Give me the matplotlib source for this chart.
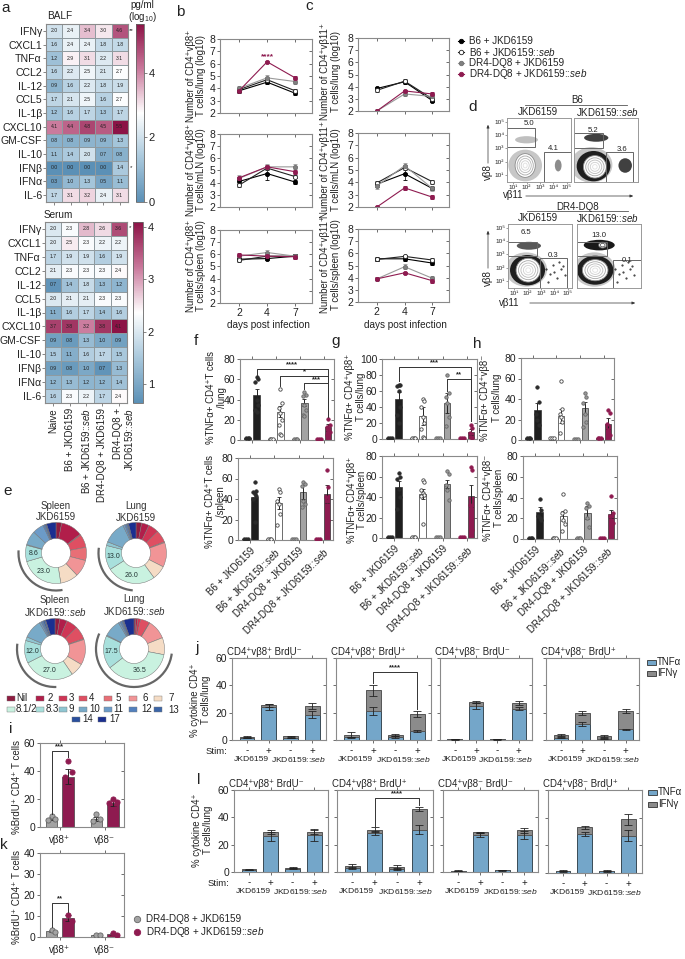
import numpy as np
import matplotlib
matplotlib.use("Agg")
import matplotlib.pyplot as plt
from matplotlib.colors import LinearSegmentedColormap, Normalize
from matplotlib.lines import TICKLEFT, TICKDOWN
from matplotlib.patches import Ellipse, Arc, Rectangle
import logging
logging.getLogger('matplotlib.font_manager').setLevel(logging.ERROR)

plt.rcParams['font.family'] = ['Liberation Sans', 'DejaVu Sans']
plt.rcParams['mathtext.fontset'] = 'custom'
plt.rcParams['mathtext.rm'] = 'Liberation Sans'
plt.rcParams['mathtext.it'] = 'Liberation Sans:italic'
plt.rcParams['mathtext.bf'] = 'Liberation Sans:bold'
plt.rcParams['mathtext.default'] = 'regular'
plt.rcParams['hatch.linewidth'] = 0.4
plt.rcParams['text.color'] = '#222222'
plt.rcParams['axes.labelcolor'] = '#222222'
plt.rcParams['xtick.color'] = '#555555'
plt.rcParams['ytick.color'] = '#555555'
plt.rcParams['xtick.labelcolor'] = '#222222'
plt.rcParams['ytick.labelcolor'] = '#222222'

W, H = 685, 959
MAROON = '#8e1b50'
GREY = '#a3a3a3'
DARK = '#1f1f1f'
SPINE = '#8a8a8a'
SEB = 'JKD6159::$\\mathit{seb}$'

# ---------- data: panel a ----------
cytokines = ['IFNγ', 'CXCL1', 'TNFα', 'CCL2', 'IL-12', 'CCL5', 'IL-1β', 'CXCL10',
             'GM-CSF', 'IL-10', 'IFNβ', 'IFNα', 'IL-6']
heat_groups = ['Naive', 'B6 + JKD6159', 'B6 + ' + SEB, 'DR4-DQ8 + JKD6159']
heat_last = ['DR4-DQ8 +', SEB]
balf = [[2.0, 2.4, 3.4, 3.0, 4.6], [1.6, 2.4, 2.4, 1.8, 1.8], [1.2, 2.9, 3.1, 2.2, 3.1],
        [1.6, 2.2, 2.5, 2.1, 2.7], [0.9, 1.6, 2.2, 1.8, 1.9], [1.7, 2.1, 2.5, 1.6, 2.7],
        [1.2, 1.6, 1.7, 1.3, 1.7], [4.1, 4.4, 4.8, 4.5, 5.5], [0.8, 0.8, 0.9, 0.9, 1.3],
        [1.1, 1.4, 2.0, 0.7, 0.8], [0.0, 0.0, 0.0, 0.0, 1.4], [0.3, 1.0, 1.3, 0.5, 1.1],
        [1.7, 3.1, 3.2, 2.4, 3.1]]
serum = [[2.0, 2.3, 2.8, 2.6, 3.6], [2.0, 2.5, 2.3, 2.2, 2.2], [1.7, 1.9, 1.9, 1.6, 1.9],
         [2.1, 2.3, 2.3, 2.3, 2.4], [0.7, 1.4, 1.8, 1.3, 1.2], [2.0, 2.1, 2.1, 2.3, 2.3],
         [1.1, 1.6, 1.7, 1.4, 1.6], [3.7, 3.8, 3.2, 3.8, 4.1], [0.9, 0.8, 1.3, 1.0, 0.9],
         [1.5, 1.1, 1.6, 1.7, 1.5], [0.9, 0.8, 1.0, 0.7, 1.3], [1.2, 1.3, 1.2, 1.2, 1.4],
         [1.6, 2.3, 2.2, 1.7, 2.4]]

# ---------- data: panels b, c ----------
days = ['2', '4', '7']
b_lung = [[3.8, 4.5, 3.6], [3.9, 4.7, 3.8], [4.0, 4.85, 4.55], [3.8, 6.15, 4.85]]
b_mln = [[4.1, 4.75, 4.05], [3.8, 5.2, 4.5], [4.35, 5.3, 5.3], [4.4, 5.3, 4.9]]
b_spleen = [[5.6, 5.65, 5.85], [5.5, 5.85, 5.85], [5.85, 6.15, 5.85], [5.95, 5.85, 5.8]]
c_lung = [[3.85, 4.4, 2.85], [3.7, 4.45, 3.0], [2.0, 3.4, 3.2], [2.0, 3.65, 3.4]]
c_mln = [[3.85, 4.7, 3.5], [3.95, 5.2, 4.05], [3.7, 5.35, 3.5], [2.0, 3.55, 2.8]]
c_spleen = [[5.55, 5.55, 5.2], [5.5, 5.75, 5.45], [3.9, 4.9, 3.95], [3.9, 4.4, 3.75]]
line_err = [[.15, .15, .15], [.15, .15, .15], [.15, .2, .2], [.12, .1, .15]]
line_err_big = [[.2, .5, .15], [.15, .2, .15], [.25, .2, .2], [.05, .15, .15]]

# ---------- data: panel e ----------
segments = ['Nil', '2', '3', '4', '5', '6', '7', '8.1/2', '8.3', '9', '10', '11', '12', '13', '14', '17']
segment_colors = ['#8e1c40', '#b11e4a', '#cf3555', '#df4f62', '#e86f76', '#f19496', '#f5dcc5', '#c9f2e0',
                  '#a8e0dc', '#8fc6d2', '#78aac8', '#6c9bc8', '#5280bd', '#3c66a8', '#2a4f9e', '#1a2f90']
e_spleen = [3, 11.5, 0.5, 7, 7, 9, 9.5, 23, 8.6, 0.4, 7.5, 6, 1, 0.5, 0.5, 5]
e_lung = [3, 4, 5.5, 6.5, 0.5, 13, 7.5, 26, 13, 2, 12, 1, 1, 0.5, 0.5, 4]
e_spleen_seb = [2.5, 4, 6, 7, 0.5, 13.5, 7, 27, 12, 2, 10, 1, 1, 1, 0.5, 5]
e_lung_seb = [1, 1, 1.5, 5, 0.1, 10.4, 9, 36.5, 17.5, 0.5, 9, 1, 1, 0.5, 0.5, 5.5]

# ---------- data: panels f, g, h (pairs: unstimulated, stimulated) ----------
f1_low = [1.5, 1, 1, 1]; f1_high = [44, 28, 37, 12.5]; f1_err = [6.5, 5.5, 3.5, 3.5]
f1_pts = [[62, 60, 57, 40, 35, 30, 28], [50, 37, 32, 27, 20, 15, 6, 5],
          [47, 44, 43, 35, 30, 25, 24], [21, 15, 13, 10, 8, 5, 3]]
f2_low = [.5, .5, 1, 1]; f2_high = [42, 36, 47, 45]; f2_err = [5, 6, 7, 9]
f2_pts = [[57, 48, 47, 45, 43, 40, 18], [50, 47, 38, 35, 25, 15],
          [57, 55, 53, 38, 35, 32], [68, 52, 42, 38, 20]]
g1_low = [1, 1, 1, 1]; g1_high = [50, 29, 45, 9]; g1_err = [9, 11, 12, 4]
g1_pts = [[68, 67, 66, 60, 40, 30, 20], [50, 47, 40, 28, 20, 13, 2, 1],
          [80, 57, 53, 45, 27, 16], [18, 14, 7, 3, 1]]
g2_low = [1, 1, 1, 1]; g2_high = [50, 43, 53, 41]; g2_err = [6, 5, 4, 11]
g2_pts = [[63, 60, 58, 48, 40, 28], [57, 55, 47, 44, 42, 41, 14],
          [65, 62, 52, 47, 37], [69, 66, 32, 29, 7.5]]
h1_low = [1.5, 1.5, 1, 1.5]; h1_high = [29, 23.5, 31, 16]; h1_err = [7, 7, 6, 5]
h1_pts = [[52, 37, 25, 20, 15], [58, 30, 25, 22, 18, 7], [46, 42, 36, 25, 18, 13], [29, 26, 16, 10, 5]]
h2_low = [.5, .5, .5, .5]; h2_high = [26, 22, 25.5, 24]; h2_err = [5, 5, 6, 4]
h2_pts = [[39, 28, 22, 20, 18], [43, 27, 25, 18, 14, 8], [35, 32, 30, 20, 12], [41, 25, 22, 18, 15]]
bar_labels = ['B6 + JKD6159', 'B6 + ' + SEB, 'DR4-DQ8 + JKD6159', 'DR4-DQ8 + ' + SEB]

# ---------- data: panels j, l ----------
stim = ['-', '+', '-', '+']
titles_jl = ['CD4⁺vβ8⁺ BrdU⁻', 'CD4⁺vβ8⁺ BrdU⁺', 'CD4⁺vβ8⁻ BrdU⁻', 'CD4⁺vβ8⁻ BrdU⁺']
j_tnf = [[1.5, 24, 1.5, 18.5], [2, 21, 2, 6.5], [.5, 25, .5, 23], [1.5, 12, 1, 8]]
j_tot = [[2.3, 25.5, 2.7, 25], [4, 36.5, 3.7, 19], [.7, 28, .7, 27], [3.5, 19.5, 3, 21]]
j_tnf_err = [[.3, 2.3, .3, 2.5], [.5, 3, .7, .7], [.2, 2, .2, 1], [.4, 1.5, .2, .4]]
j_tot_err = [[.3, 1, .3, 2], [1.5, 4, 1, 2.5], [.2, .7, .2, 1.5], [.6, 1.5, .5, 1.5]]
l_tnf = [[1.5, 26, 2.5, 27], [3, 28.5, 2.5, 31], [.7, 27, 1.2, 27], [1.3, 28.5, 1.2, 27]]
l_tot = [[2, 29.5, 3, 29.5], [4.5, 31, 3.7, 46], [.9, 29, 1.5, 30.5], [1.8, 33, 1.6, 39]]
l_tnf_err = [[.3, 3.5, .3, 4], [.8, 1.5, .7, 3.5], [.2, 1.5, .3, 3], [.5, 1.5, .3, 4]]
l_tot_err = [[.3, 1.5, .3, 2], [1.5, 2, 1.5, 1.5], [.2, .5, .3, 2], [.5, 1, .3, 4]]

# ---------- data: panels i, k ----------
ik_cats = ['vβ8⁺', 'vβ8⁻']
i_vals = [6, 36, 6, 17]; i_err = [1, 5.5, 1.5, 2]
i_pts = [[8, 6, 5], [47, 39, 36, 21], [9, 6, 4], [20, 18, 17, 13]]
k_vals = [3, 9, 1, 1.5]; k_err = [.4, 1.5, 0, .5]
k_pts = [[3.5, 2.5], [10.5, 7.5], [1, 1], [2, 1]]

# ---------- data: panel d gate frequencies ----------
d_vb8 = ['5.0', '5.2', '6.5', '13.0']
d_vb11 = ['4.1', '3.6', '0.3', '0.1']

fig = plt.figure(figsize=(W / 100, H / 100), dpi=100)
ov = fig.add_axes([0, 0, 1, 1], zorder=20)
ov.set_xlim(0, W); ov.set_ylim(H, 0); ov.axis('off'); ov.patch.set_alpha(0)


def axpx(l, t, r, b):
    ax = fig.add_axes([l / W, 1 - b / H, (r - l) / W, (b - t) / H])
    for s in ax.spines.values():
        s.set_color(SPINE); s.set_linewidth(0.8)
    return ax


def T(x, y, s, size=7, ha='center', va='center', rot=0, **kw):
    kw.setdefault('linespacing', 1.15)
    ov.text(x, y, s, fontsize=size, ha=ha, va=va, rotation=rot, **kw)


def YL(x1, x2, y, l1, l2, size=6.9):
    T(x1, y, l1, rot=90, size=size)
    T(x2, y, l2, rot=90, size=size)


def mirror(ax):
    ax.tick_params(top=True, right=True, length=2, width=0.6, pad=1.5)
    for t in ax.yaxis.get_major_ticks():
        t.tick2line.set_marker(TICKLEFT)
    for t in ax.xaxis.get_major_ticks():
        t.tick2line.set_marker(TICKDOWN)


# panel letters
for s, x, y in [('a', 6, 8), ('b', 180, 12), ('c', 309, 6), ('d', 473, 107), ('e', 8, 491),
                ('f', 196, 341), ('g', 336, 341), ('h', 477, 344), ('i', 11, 729),
                ('j', 197, 648), ('k', 4, 845), ('l', 199, 780)]:
    T(x, y, s, size=11)

# ---------- a ----------
cmap = LinearSegmentedColormap.from_list('hm', [(0, '#5b90b6'), (.25, '#a9c8dc'), (.5, '#ffffff'),
                                                (.75, '#c9789b'), (1, '#8c1346')])


def heat(box, cbox, vals, norm, ticks):
    ax = axpx(*box)
    v = np.array(vals)
    m = ax.pcolormesh(v, cmap=cmap, norm=norm, edgecolors='#8f9a9f', linewidth=0.5)
    ax.set_xlim(0, 5); ax.set_ylim(13, 0)
    for r in range(13):
        for c in range(5):
            ax.text(c + .5, r + .5, f'{v[r, c]:.1f}', fontsize=3.7, ha='center', va='center', color='#222222')
    ax.set_yticks(np.arange(13) + .5, cytokines, fontsize=7.6)
    ax.set_xticks(np.arange(5) + .5, [])
    ax.tick_params(length=2, width=0.5, pad=1)
    cax = axpx(*cbox)
    cb = fig.colorbar(m, cax=cax, ticks=ticks)
    cb.outline.set_edgecolor('#666666'); cb.outline.set_linewidth(.6)
    cb.ax.tick_params(labelsize=8, length=2, width=.5, pad=1.5)
    return ax


heat((46, 24, 128, 202), (136, 24, 144, 202), balf, Normalize(0, 5.5), [0, 2, 4])
heat((45, 222, 127, 403), (133, 222, 143, 403), serum, Normalize(.63, 4.1), [1, 2, 3, 4])
for i, name in enumerate(heat_groups):
    T(53.2 + 16.4 * i, 408, name, rot=90, va='top', size=7)
T(118, 408, heat_last[0], rot=90, va='top', size=7)
T(129, 408, heat_last[1], rot=90, va='top', size=7)
T(47, 16, 'BALF', size=7.2, ha='left')
T(44, 215, 'Serum', size=7.2, ha='left')
T(142, 5, 'pg/ml', size=7)
T(142, 17, '(log$_{10}$)', size=7)
T(131, 31, '**', size=4.5); T(131, 168, '*', size=4.5); T(130, 228, '*', size=4.5)

# ---------- b, c ----------
line_names = ['B6 + JKD6159', 'B6 + ' + SEB, 'DR4-DQ8 + JKD6159', 'DR4-DQ8 + ' + SEB]
styles = [dict(color='black', mfc='black', mec='black'),
          dict(color='#222222', mfc='white', mec='#222222'),
          dict(color='#9a9a9a', mfc='#808080', mec='#707070'),
          dict(color=MAROON, mfc=MAROON, mec=MAROON)]


def lines(box, series, errs, xtick=False):
    ax = axpx(*box)
    for s, e, st in zip(series, errs, styles):
        ax.errorbar(range(3), s, yerr=e, marker='o', ms=3.0, lw=.8, mew=.6, ecolor=st['color'],
                    elinewidth=.5, capsize=1.2, capthick=.5, **st)
    ax.set_xlim(-.68, 2.6); ax.set_ylim(2, 8)
    ax.set_yticks(range(2, 9))
    ax.set_xticks(range(3), days if xtick else [])
    ax.tick_params(labelsize=7.5)
    mirror(ax)
    return ax


ax = lines((220, 39, 312, 113), b_lung, line_err)
ax.text(1, 6.6, '****', color=MAROON, fontsize=6, fontweight='bold', ha='center', va='center')
lines((220, 134, 312, 207), b_mln, line_err_big)
lines((220, 230, 312, 303), b_spleen, line_err, xtick=True)
lines((358, 38, 449, 111), c_lung, line_err)
lines((358, 133, 449, 207), c_mln, line_err_big)
lines((358, 229, 449, 302), c_spleen, line_err, xtick=True)
YL(191, 201, 76, 'Number of CD4⁺vβ8⁺', 'T cells/lung (log10)')
YL(191, 201, 170, 'Number of CD4⁺vβ8⁺', 'T cells/mLN (log10)')
YL(191, 201, 266, 'Number of CD4⁺vβ8⁺', 'T cells/spleen (log10)')
YL(325, 336, 72, 'Number of CD4⁺vβ11⁺', 'T cells/lung (log10)')
YL(325, 336, 170, 'Number of CD4⁺vβ11⁺', 'T cells/mLN (log10)')
YL(325, 336, 265, 'Number of CD4⁺vβ11⁺', 'T cells/spleen (log10)')
T(268, 325, 'days post infection', size=7.2)
T(405, 325, 'days post infection', size=7.2)
for i, (nm, st) in enumerate(zip(line_names, styles)):
    y = 41 + i * 11
    ov.plot([458, 464.5], [y, y], color=st['color'], lw=.8)
    ov.plot([461.2], [y], marker='o', ms=3.2, mfc=st['mfc'], mec=st['mec'], mew=.6, ls='none')
    T(469.5, y, nm, size=7.1, ha='left')

# ---------- d ----------
flow_boxes = [(507, 118, 571, 182), (574, 118, 638, 182), (508, 224, 572, 288), (577, 224, 641, 288)]
flow_main = [(1.9, 1.7, 1.5, 1.8), (2.1, 1.6, 1.7, 1.7), (2.05, 1.8, 1.8, 1.8), (1.9, 1.8, 1.9, 1.6)]
flow_dense = [None, (2.0, 1.65, 2.5, 2.3), (2.0, 1.8, 2.6, 2.3), (1.9, 1.8, 2.7, 2.2)]
flow_halo = [(1.9, 1.7, 2.5, 2.4), (1.85, 1.75, 3.1, 2.7), (1.9, 1.85, 3.1, 2.6), (1.85, 1.85, 3.1, 2.6)]
flow_vb8_blob = [(2.0, 3.65, 1.7, .55, .25), (2.2, 3.8, 1.8, .6, .75), (2.1, 3.65, 1.8, .6, .65), (2.2, 3.7, 2.3, .8, .9)]
flow_vb11_blob = [(4.35, 1.7, .5, .9, .45), (4.35, 1.7, 1.0, 1.1, .75), None, None]
flow_vb8_gate = [(.55, 3.1, 2.1, 1.45), (.55, 3.0, 2.15, 1.15), (.55, 2.85, 2.15, 1.05), (.55, 2.85, 2.2, 1.05)]
flow_vb11_gate = [(3.3, .45, 2.0, 2.3), (2.95, .45, 1.95, 2.25), (2.95, .45, 1.95, 2.3), (3.25, .45, 2.05, 2.1)]
flow_label8 = [(2.2, 4.85), (2.0, 4.35), (1.9, 4.65), (2.2, 4.45)]
flow_label11 = [(4.0, 3.0), (4.15, 2.95), (3.9, 2.9), (4.3, 2.5)]
flow_sparse_x = [3.4, 3.7, 3.9, 4.2, 4.45, 4.0, 4.6, 3.5, 4.3, 4.8]
flow_sparse_y = [1.9, 1.5, 2.2, 1.2, 1.9, 1.7, 2.1, 0.9, 2.4, 1.4]
flow_tick_names = ['10¹', '10²', '10³', '10⁴', '10⁵']

for i, bx in enumerate(flow_boxes):
    ax = axpx(*bx)
    for s in ax.spines.values():
        s.set_color('#999999'); s.set_linewidth(.7)
    ax.set_xlim(.55, 5.3); ax.set_ylim(.45, 5.3)
    cx, cy, w, h = flow_halo[i]
    ax.add_patch(Ellipse((cx, cy), w, h, fc='#000000', ec='none', alpha=.22))
    if flow_dense[i]:
        cx, cy, w, h = flow_dense[i]
        ax.add_patch(Ellipse((cx, cy), w, h, fc='#000000', ec='none', alpha=.85))
    b = flow_vb8_blob[i]
    ax.add_patch(Ellipse(b[:2], b[2], b[3], fc='#000000', ec='none', alpha=b[4]))
    if flow_vb11_blob[i]:
        b = flow_vb11_blob[i]
        ax.add_patch(Ellipse(b[:2], b[2], b[3], fc='#000000', ec='none', alpha=b[4]))
    else:
        ax.plot(flow_sparse_x, flow_sparse_y, '.', ms=1, color='#222222')
    cx, cy, w, h = flow_main[i]
    for f, col in [(1, '#8a8a8a'), (.8, '#a8a8a8'), (.6, '#bcbcbc'), (.4, '#cfcfcf'), (.2, '#e0e0e0')]:
        ax.add_patch(Ellipse((cx, cy), w * f, h * f, fc='white', ec=col, lw=.6))
    if i == 3:
        for f in (1, .6):
            ax.add_patch(Ellipse((2.45, 3.7), .6 * f, .45 * f, fc='white', ec='#555555', lw=.6))
    x0, y0, gw, gh = flow_vb8_gate[i]
    ax.add_patch(Rectangle((x0, y0), gw, gh, fc='none', ec='#666666', lw=.7))
    x0, y0, gw, gh = flow_vb11_gate[i]
    ax.add_patch(Rectangle((x0, y0), gw, gh, fc='none', ec='#666666', lw=.7))
    ax.text(*flow_label8[i], d_vb8[i], fontsize=5.6, ha='center', va='center')
    ax.text(*flow_label11[i], d_vb11[i], fontsize=5.6, ha='center', va='center')
    ax.set_xticks(range(1, 6), flow_tick_names if i in (0, 2) else [])
    ax.set_yticks(range(1, 6), flow_tick_names if i in (0, 2) else [])
    ax.tick_params(labelsize=4.6, length=1.2, width=.4, pad=.8)
    if i in (1, 3):
        ax.tick_params(length=0)

T(577, 100, 'B6', size=7); ov.plot([525, 627], [105, 105], color='#555555', lw=.6)
T(578, 207, 'DR4-DQ8', size=7); ov.plot([527, 628], [211, 211], color='#555555', lw=.6)
for y in (112, 218):
    T(538, y, 'JKD6159', size=7)
    T(607.5, y, SEB, size=7)
arrow = dict(arrowstyle='-|>,head_width=.08,head_length=.18', color='#333333', lw=.5)
for (xl, yl, x0, x1, yy) in [(513, 195, 523, 636, 196), (509, 303, 527, 638, 303)]:
    T(xl, yl, 'vβ11', size=7)
    ov.annotate('', xy=(x1, yy), xytext=(x0, yy), arrowprops=arrow)
for (yl, y0, y1) in [(172, 166, 122), (278, 271, 228)]:
    T(488, yl, 'vβ8', size=7, rot=90)
    ov.annotate('', xy=(488, y1), xytext=(488, y0), arrowprops=arrow)

# ---------- e ----------
donuts = [((56, 553), e_spleen, 'Spleen\nJKD6159', (176, 280), 37.5),
          ((136, 553), e_lung, 'Lung\nJKD6159', (172, 265), 37.5),
          ((55, 649), e_spleen_seb, 'Spleen\n' + SEB, (172, 272), 38),
          ((134, 649), e_lung_seb, 'Lung\n' + SEB, (156, 353), 38)]
donut_title_y = [511.5, 512, 606.5, 605.5]
donut_labels = [[('8.6', 8), ('23.0', 7)], [('13.0', 8), ('26.0', 7)], [('12.0', 8), ('27.0', 7)], [('17.5', 8), ('36.5', 7)]]
R = 30.5
for k, ((cx, cy), vals, title, arc, arc_r) in enumerate(donuts):
    s = 45.0
    ax = axpx(cx - s, cy - s, cx + s, cy + s)
    ax.axis('off'); ax.patch.set_alpha(0)
    ax.pie(vals, colors=segment_colors, startangle=90, counterclock=False, radius=R / s,
           wedgeprops=dict(width=16 / s, edgecolor='#777777', linewidth=.35), center=(0, 0))
    ax.set_xlim(-1, 1); ax.set_ylim(-1, 1); ax.set_aspect('equal')
    # grey arc spanning the TCR vβ8 segments
    ax.add_patch(Arc((0, 0), 2 * arc_r / s, 2 * arc_r / s, theta1=arc[0], theta2=arc[1], color='#666666', lw=1.6))
    total = sum(vals)
    for lab, idx in donut_labels[k]:
        start = sum(vals[:idx])
        mid = 90 - 360 * (start + vals[idx] / 2) / total
        rr = 22.5 / s
        ax.text(rr * np.cos(np.radians(mid)), rr * np.sin(np.radians(mid)), lab, fontsize=5, ha='center',
                va='center', color='#223333')
    T(cx, donut_title_y[k], title, size=7, color='#333333')

legend_pos = [(7, 698, 16), (36, 698, 48), (59, 698, 69), (79, 698, 89), (104, 698, 116), (129, 698, 143), (154, 698, 168),
              (7, 709, 16), (36, 709, 46), (59, 709, 69), (79, 709, 89), (104, 709, 113), (129, 709, 141), (154, 709, 168),
              (72, 719, 82), (98, 719, 109)]
for name, col, (xs, y, xt) in zip(segments, segment_colors, legend_pos):
    ov.add_patch(Rectangle((xs, y - 2.5), 8.5, 5, fc=col, ec='#777777', lw=.3))
    T(xt, y + (1 if name == '13' else 0), name, size=7, ha='left')

# ---------- f, g, h ----------
BX = [0, 1, 2.65, 3.65, 5.35, 6.35, 8, 9]
bar_col = [DARK, 'white', GREY, MAROON]
pt_fc = ['#2b2b2b', 'white', '#9a9a9a', MAROON]
pt_ec = ['#2b2b2b', '#444444', '#666666', MAROON]
swarm = [0, .15, -.15, 0, .15, -.15, 0, .1]


def pairs(box, low, high, err, pts, ymax, yticks, labels=False):
    ax = axpx(*box)
    for i in range(4):
        x0, x1 = BX[2 * i], BX[2 * i + 1]
        ax.bar([x0, x1], [low[i], high[i]], width=.72, color=bar_col[i], edgecolor='#333333', linewidth=.5, zorder=2)
        ax.errorbar([x1], [high[i]], yerr=[err[i]], color='#222222', elinewidth=.7, capsize=1.6, capthick=.6, zorder=3)
        ax.scatter(x0 + np.array([-.2, 0, .2]), [low[i]] * 3, s=6, fc=pt_fc[i], ec=pt_ec[i], lw=.6, zorder=4)
        ax.scatter(x1 + np.array(swarm[:len(pts[i])]), pts[i], s=6, fc=pt_fc[i], ec=pt_ec[i], lw=.6, zorder=4)
    ax.set_xlim(-.85, 9.65); ax.set_ylim(0, ymax)
    ax.set_yticks(yticks)
    ax.set_xticks([(BX[2 * i] + BX[2 * i + 1]) / 2 for i in range(4)])
    if labels:
        ax.set_xticklabels(bar_labels, rotation=45, ha='right', rotation_mode='anchor', fontsize=7)
    else:
        ax.set_xticklabels([])
    ax.tick_params(axis='y', labelsize=7.5)
    mirror(ax)
    ax.tick_params(axis='x', pad=2)
    return ax


def bracket(ax, x0, x1, y, y0, y1, s, c='#333333', dy=None):
    ax.plot([x0, x0, x1, x1], [y0, y, y, y1], color=c, lw=.7, zorder=5, clip_on=False)
    top = ax.get_ylim()[1]
    ax.text((x0 + x1) / 2, y + (dy if dy is not None else top * .018), s, fontsize=5.5, fontweight='bold', ha='center', va='center',
            clip_on=False, zorder=6)


a1 = pairs((240, 359, 334, 440), f1_low, f1_high, f1_err, f1_pts, 80, [0, 20, 40, 60, 80])
bracket(a1, 1, 9, 70.5, 64, 25, '****', dy=4)
bracket(a1, 3.65, 9, 63.5, 53, 23, '*', dy=4)
bracket(a1, 6.35, 9, 56, 50, 23, '***', dy=3.5)
pairs((238, 458, 333, 540), f2_low, f2_high, f2_err, f2_pts, 80, [0, 20, 40, 60, 80], labels=True)
a1 = pairs((382, 359, 477, 439), g1_low, g1_high, g1_err, g1_pts, 100, [0, 20, 40, 60, 80, 100])
bracket(a1, 1, 9, 90, 72, 25, '***', dy=5)
bracket(a1, 6.35, 9, 75, 60, 22, '**', dy=5)
pairs((382, 456, 477, 538), g2_low, g2_high, g2_err, g2_pts, 80, [0, 20, 40, 60, 80], labels=True)
pairs((521, 358, 614, 440), h1_low, h1_high, h1_err, h1_pts, 80, [0, 20, 40, 60, 80])
pairs((523, 456, 617, 539), h2_low, h2_high, h2_err, h2_pts, 80, [0, 20, 40, 60, 80], labels=True)
YL(211, 222, 398, '%TNFα+ CD4⁺T cells', '/lung')
YL(210, 221, 502, '%TNFα+ CD4⁺T cells', '/spleen')
YL(350, 361, 397, '%TNFα+ CD4⁺vβ8⁺', 'T cells/lung')
YL(352, 362, 500, '%TNFα+ CD4⁺vβ8⁺', 'T cells/spleen')
YL(485, 497, 398, '%TNFα+ CD4⁺vβ8⁻', 'T cells/lung')
YL(488, 499, 498, '%TNFα+ CD4⁺vβ8⁻', 'T cells/spleen')

# ---------- j, l ----------
TNF_C = '#74a6c9'
IFN_C = '#8b8b8b'


def stack(box, tnf, tot, e1, e2, title, first):
    ax = axpx(*box)
    xs = np.arange(4)
    tnf = np.array(tnf); tot = np.array(tot)
    ax.bar(xs, tnf, width=.68, color=TNF_C, edgecolor='#3a4a55', linewidth=.7, zorder=2)
    ax.bar(xs, tot - tnf, bottom=tnf, width=.68, color=IFN_C, edgecolor='#555555', linewidth=.7, zorder=2)
    ax.errorbar(xs, tnf, yerr=e1, ls='none', color='#222222', elinewidth=.6, capsize=3.2, capthick=.6, zorder=3)
    ax.errorbar(xs, tot, yerr=e2, ls='none', color='#222222', elinewidth=.6, capsize=3.2, capthick=.6, zorder=3)
    ax.set_xlim(-.69, 3.62); ax.set_ylim(0, 60)
    ax.set_yticks([0, 20, 40, 60], ['0', '20', '40', '60'] if first else [])
    ax.set_xticks(xs, stim, fontsize=7)
    ax.tick_params(axis='y', labelsize=7.5)
    mirror(ax)
    ax.tick_params(axis='x', pad=2)
    tr = ax.get_xaxis_transform()
    ax.text(.2, -.235, 'JKD6159', transform=tr, fontsize=6.1, ha='center', va='center')
    ax.text(2.37, -.235, SEB, transform=tr, fontsize=6.1, ha='center', va='center')
    ax.text(-.05, 1.07, title, transform=ax.transAxes, fontsize=6.9, ha='left', va='center')
    return ax


j_boxes = [(232, 658, 326, 740), (336, 658, 431, 740), (440, 658, 532, 740), (546, 658, 639, 740)]
l_boxes = [(234, 790, 328, 872), (337, 790, 433, 872), (443, 790, 538, 872), (548, 790, 642, 873)]
for i in range(4):
    a = stack(j_boxes[i], j_tnf[i], j_tot[i], j_tnf_err[i], j_tot_err[i], titles_jl[i], i == 0)
    if i == 1:
        bracket(a, 1, 3, 50, 42, 23, '****', dy=3)
    a = stack(l_boxes[i], l_tnf[i], l_tot[i], l_tnf_err[i], l_tot_err[i], titles_jl[i], i == 0)
    if i == 1:
        bracket(a, 1, 3, 54, 34, 49, '****', dy=3)
T(216, 752, 'Stim:', size=6.8); T(218, 884, 'Stim:', size=6.8)
YL(195, 206, 700, '% cytokine CD4⁺', 'T cells/lung')
YL(197, 208, 830, '% cytokine CD4⁺', 'T cells/lung')
for (xs, y1, y2) in [(647, 662, 673), (648, 792, 804)]:
    ov.add_patch(Rectangle((xs, y1 - 2.5), 9, 5, fc=TNF_C, ec='#333333', lw=.6))
    ov.add_patch(Rectangle((xs, y2 - 2.5), 9, 5, fc=IFN_C, ec='#333333', lw=.6))
    T(xs + 10, y1, 'TNFα', size=7, ha='left'); T(xs + 10, y2, 'IFNγ', size=7, ha='left')

# ---------- i, k ----------
IK_X = [0, 1, 2.7, 3.7]


def brdu(box, vals, err, pts, ymax, yticks):
    ax = axpx(*box)
    cols = [GREY, MAROON, GREY, MAROON]
    ecs = ['#666666', MAROON, '#666666', MAROON]
    ax.bar(IK_X, vals, width=.7, color=cols, edgecolor='#444444', linewidth=.5, zorder=2)
    ax.errorbar(IK_X, vals, yerr=err, ls='none', color='#222222', elinewidth=.7, capsize=2, capthick=.6, zorder=3)
    for i in range(4):
        ax.scatter(IK_X[i] + np.array([0, .22, -.22, .1][:len(pts[i])]), pts[i], s=14, fc=cols[i], ec=ecs[i], lw=.6, zorder=4)
    ax.set_xlim(-.7, 4.36); ax.set_ylim(0, ymax)
    ax.set_yticks(yticks)
    ax.set_xticks([.5, 3.2], ik_cats, fontsize=7)
    ax.tick_params(axis='y', labelsize=7.5)
    mirror(ax)
    ax.tick_params(axis='x', pad=4)
    return ax


a = brdu((40, 743, 124, 827), i_vals, i_err, i_pts, 60, [0, 20, 40, 60])
bracket(a, 0, 1, 54, 9, 50, '***', dy=3)
a = brdu((40, 853, 124, 937), k_vals, k_err, k_pts, 40, [0, 10, 20, 30, 40])
bracket(a, 0, 1, 16, 5, 12, '**', dy=2.2)
T(17, 787, '%BrdU⁺ CD4⁺ T cells', rot=90, size=7)
T(17, 897, '%BrdU⁺ CD4⁺ T cells', rot=90, size=7)
for y, c, nm, e in [(919, GREY, 'DR4-DQ8 + JKD6159', '#666666'), (932, MAROON, 'DR4-DQ8 + ' + SEB, MAROON)]:
    ov.plot([137], [y], marker='o', ms=4.6, mfc=c, mec=e, mew=.6, ls='none')
    T(146, y, nm, size=7.1, ha='left')

ov.set_xlim(0, W); ov.set_ylim(H, 0)
fig.savefig('out.png', dpi=100)
